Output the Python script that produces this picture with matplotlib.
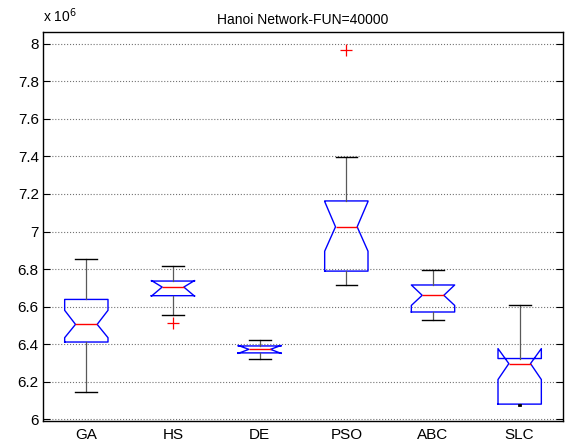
import numpy as np
import matplotlib
matplotlib.use('Agg')
import matplotlib.pyplot as plt
from matplotlib.ticker import FuncFormatter

plt.rcParams['font.family'] = ['Liberation Sans', 'DejaVu Sans']

# box statistics (units of 1e6)
labels = ['GA', 'HS', 'DE', 'PSO', 'ABC', 'SLC']
whislo = [6.142, 6.555, 6.319, 6.716, 6.527, 6.076]
q1 = [6.411, 6.658, 6.353, 6.789, 6.571, 6.080]
cilo = [6.434, 6.655, 6.350, 6.895, 6.606, 6.211]
med = [6.505, 6.704, 6.372, 7.025, 6.660, 6.296]
cihi = [6.580, 6.739, 6.393, 7.160, 6.715, 6.376]
q3 = [6.638, 6.736, 6.390, 7.163, 6.715, 6.323]
whishi = [6.851, 6.815, 6.422, 7.395, 6.794, 6.606]
outliers = [[], [6.514], [], [7.968], [], []]

stats = []
for i in range(len(labels)):
    stats.append(dict(label=labels[i], whislo=whislo[i], q1=q1[i], cilo=cilo[i],
                      med=med[i], cihi=cihi[i], q3=q3[i], whishi=whishi[i],
                      fliers=outliers[i]))

fig = plt.figure(figsize=(5.71, 4.44), dpi=100)
ax = fig.add_axes([0.0753, 0.0518, 0.9107, 0.8755])

ax.yaxis.grid(True, linestyle=':', color='0.45', linewidth=0.8)
ax.set_axisbelow(True)

bp = ax.bxp(stats, positions=np.arange(1, 7), widths=0.5, shownotches=True,
            boxprops=dict(color='blue', linewidth=1.0),
            medianprops=dict(color='red', linewidth=1.0),
            whiskerprops=dict(color='0.35', linewidth=0.9),
            capprops=dict(color='black', linewidth=1.0),
            flierprops=dict(marker='+', markeredgecolor='red', markersize=8,
                            linestyle='none', markeredgewidth=0.9))

# SLC lower whisker collapses to a dot
low_cap = bp['caps'][2 * 5]
x0 = np.mean(low_cap.get_xdata())
low_cap.set_xdata([x0 - 0.006, x0 + 0.006])
low_cap.set_linewidth(2)

ax.set_xlim(0.5, 6.5)
ax.set_ylim(5.99, 8.062)
ax.set_yticks(np.arange(6, 8.01, 0.2))
ax.yaxis.set_major_formatter(FuncFormatter(lambda v, p: '%g' % round(v, 1)))
ax.tick_params(axis='y', direction='in', right=True, labelsize=11, length=5, pad=3)
ax.tick_params(axis='x', direction='in', length=0, labelsize=11, pad=5)
for s in ax.spines.values():
    s.set_linewidth(1.0)

ax.set_title('Hanoi Network-FUN=40000', fontsize=10, pad=6)
ax.text(0.0, 1.02, 'x 10$^{6}$', transform=ax.transAxes, fontsize=10,
        ha='left', va='bottom')

fig.savefig('out.png', dpi=100)
